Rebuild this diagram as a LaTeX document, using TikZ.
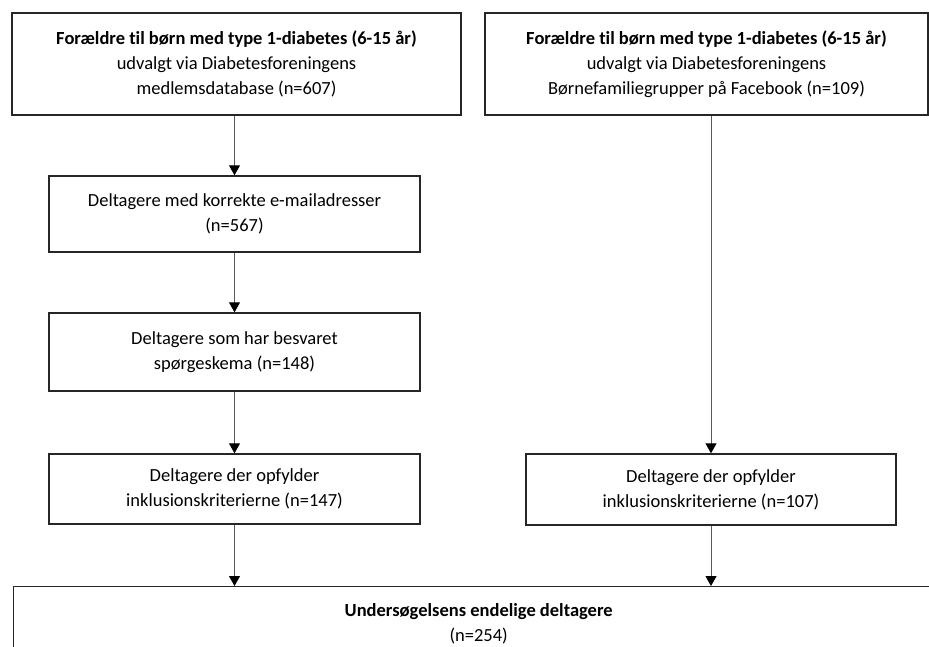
\documentclass[tikz,border=0pt]{standalone}
\usepackage{fontspec}
\setmainfont[Ligatures=NoCommon]{Carlito}
\usetikzlibrary{arrows.meta,positioning}
\tikzset{
  box/.style={draw=black!85, line width=1.4pt, align=center, inner sep=0pt,
    font=\fontsize{18.5}{25}\selectfont},
  flow/.style={draw=black!65, line width=1pt, -{Triangle[width=11pt,length=10pt,black]}},
}
\begin{document}
\begin{tikzpicture}[x=1pt,y=-1pt]
    \clip (0,0) rectangle (929,646);
    % Kilder
    \node[box, minimum width=449, minimum height=102] (kilde1) at (236.5,64)
        {\textbf{Forældre til børn med type 1-diabetes (6-15 år)}\\udvalgt via Diabetesforeningens\\medlemsdatabase (n=607)};
    \node[box, minimum width=443, minimum height=102] (kilde2) at (706.5,64)
        {\textbf{Forældre til børn med type 1-diabetes (6-15 år)}\\udvalgt via Diabetesforeningens\\Børnefamiliegrupper på Facebook (n=109)};
    % Venstre gren
    \node[box, minimum width=371, minimum height=76] (mail) at (234.5,214)
        {Deltagere med korrekte e-mailadresser\\(n=567)};
    \node[box, minimum width=371, minimum height=78] (svar) at (234.5,352)
        {Deltagere som har besvaret\\spørgeskema (n=148)};
    \node[box, minimum width=371, minimum height=70] (inkl1) at (234.5,489)
        {Deltagere der opfylder\\inklusionskriterierne (n=147)};
    % Hoejre gren
    \node[box, minimum width=370, minimum height=71] (inkl2) at (711,489.5)
        {Deltagere der opfylder\\inklusionskriterierne (n=107)};
    % Samlet
    \node[box, anchor=north west, minimum width=930, minimum height=120] (samlet) at (13,586) {};
    \node[box, draw=none] (samlettekst) at (samlet.north |- 0,623.5)
        {\textbf{Undersøgelsens endelige deltagere}\\(n=254)};
    % Pile
    \draw[flow] (mail.north |- kilde1.south) -- (mail.north);
    \draw[flow] (mail) -- (svar);
    \draw[flow] (svar) -- (inkl1);
    \draw[flow] (inkl2.north |- kilde2.south) -- (inkl2.north);
    \draw[flow] (inkl1.south) -- (inkl1.south |- samlet.north);
    \draw[flow] (inkl2.south) -- (inkl2.south |- samlet.north);
\end{tikzpicture}
\end{document}
